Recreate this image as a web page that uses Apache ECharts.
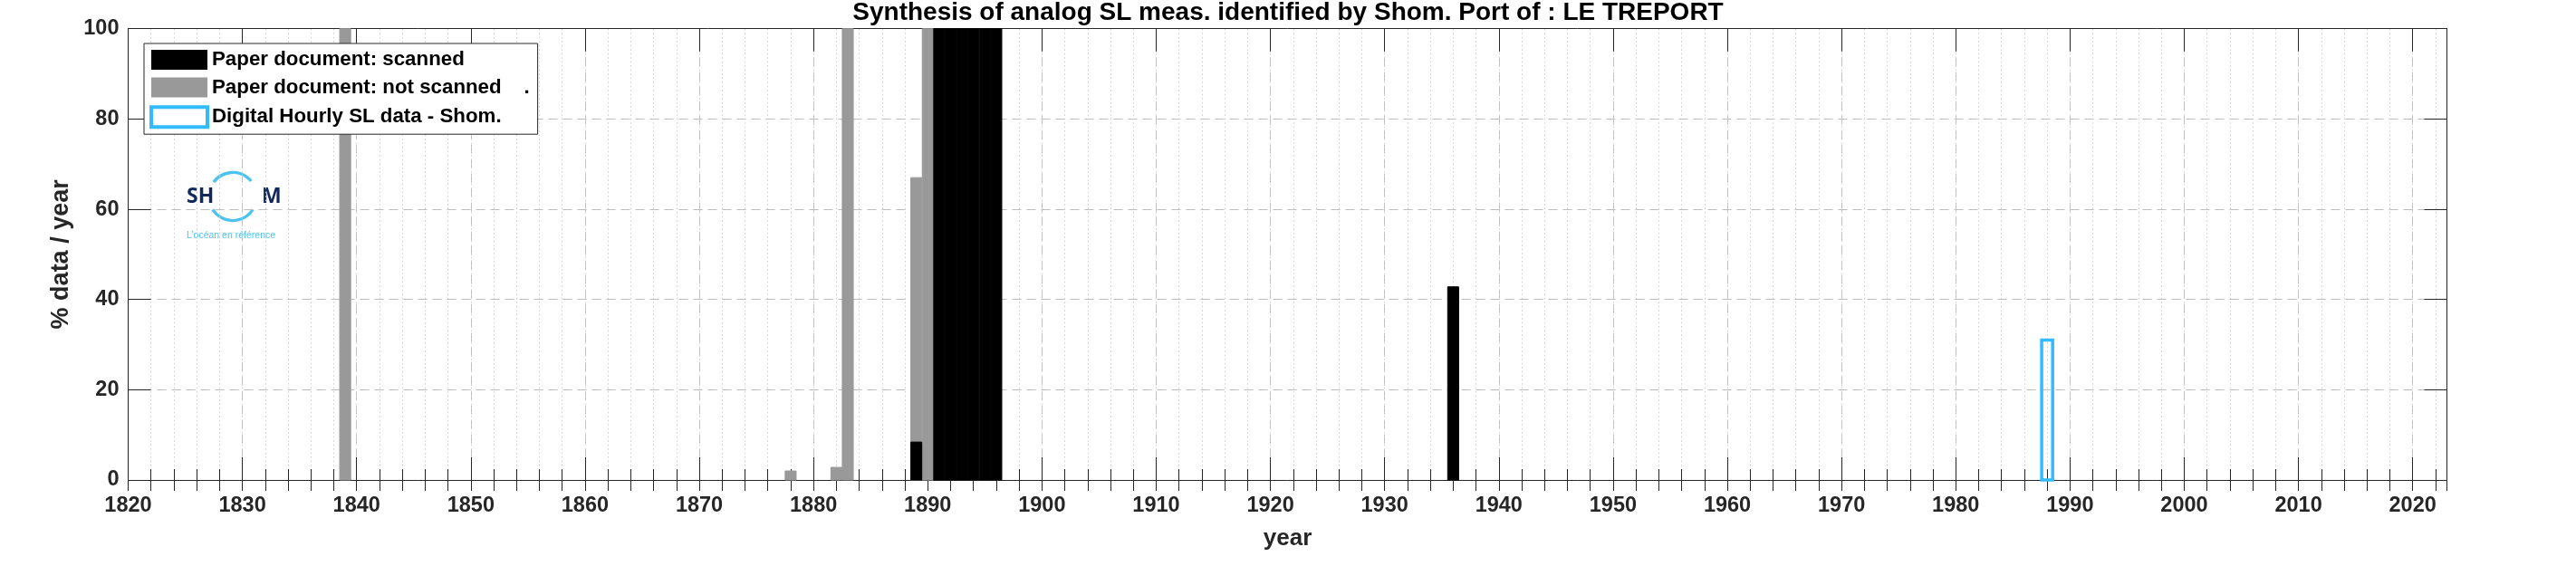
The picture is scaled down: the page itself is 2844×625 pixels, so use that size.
<!DOCTYPE html>
<html>
<head>
<meta charset="utf-8">
<script src="https://cdn.jsdelivr.net/npm/echarts@6/dist/echarts.min.js"></script>
<style>
html,body{margin:0;padding:0;background:#fff;}
#chart{width:2844px;height:625px;}
</style>
</head>
<body>
<div id="chart"></div>
<script>
// ---------------- data ----------------
const titleText = 'Synthesis of analog SL meas. identified by Shom. Port of : LE TREPORT';
const xAxisName = 'year';
const yAxisName = '% data / year';
const seriesNames = ['Paper document: scanned', 'Paper document: not scanned    .', 'Digital Hourly SL data - Shom.'];

const scannedYears = [1889, 1891, 1892, 1893, 1894, 1895, 1896, 1936];
const scannedPct   = [8.4, 100, 100, 100, 100, 100, 100, 42.8];

const notScannedYears = [1839, 1878, 1882, 1883, 1889, 1890];
const notScannedPct   = [100, 2, 2.8, 100, 67, 100];

const digitalYears = [1988];
const digitalPct   = [31];

const yearMin = 1820, yearMax = 2023, yearMajorStep = 10, yearMinorStep = 2;
const pctMin = 0, pctMax = 100, pctStep = 20;

// ---------------- styles ----------------
const FONT = '"Liberation Sans", Arial, Helvetica, sans-serif';
const AXIS_COLOR = '#262626';
const axisLine = {show: true, onZero: false, lineStyle: {color: AXIS_COLOR, width: 1}};
const majorGrid = {show: true, showMinLine: false, showMaxLine: false, lineStyle: {color: '#bcbcbc', type: [10, 6], width: 1}};
const minorGrid = {show: true, showMinLine: false, showMaxLine: false, lineStyle: {color: '#cdcdcd', type: [1.5, 3], width: 1}};
const HALF = 0.48;

const chart = echarts.init(document.getElementById('chart'), null, {renderer: 'canvas'});

function barSeries(name, years, vals, style, z) {
  return {
    type: 'custom',
    name: name,
    xAxisIndex: 0,
    yAxisIndex: 0,
    z: z,
    silent: true,
    itemStyle: {color: style.fill, borderColor: style.stroke, borderWidth: style.lineWidth},
    data: years.map((y, i) => [y, vals[i]]),
    renderItem: function (params, api) {
      const yr = api.value(0), v = api.value(1);
      const p0 = api.coord([yr - HALF, 0]);
      const p1 = api.coord([yr + HALF, v]);
      return {
        type: 'rect',
        shape: {x: p0[0], y: p1[1], width: p1[0] - p0[0], height: p0[1] - p1[1]},
        style: {fill: style.fill, stroke: style.stroke, lineWidth: style.lineWidth}
      };
    }
  };
}

const labelStyle = {fontSize: 23.5, fontWeight: 'bold', color: AXIS_COLOR, fontFamily: FONT};
const xNameStyle = {fontSize: 26, fontWeight: 'bold', color: AXIS_COLOR, fontFamily: FONT};
const yNameStyle = {fontSize: 27, fontWeight: 'bold', color: AXIS_COLOR, fontFamily: FONT};

const option = {
  animation: false,
  backgroundColor: '#fff',
  title: {
    text: titleText,
    left: 'center',
    top: 0,
    padding: 0,
    textStyle: {fontSize: 28, fontWeight: 'bold', color: '#000', fontFamily: FONT}
  },
  grid: {left: 141.5, right: 142.5, top: 31.7, bottom: 95, containLabel: false, outerBoundsMode: 'none'},
  legend: {
    orient: 'vertical',
    left: 159,
    top: 48,
    padding: [7, 9, 6, 6],
    itemWidth: 62,
    itemHeight: 22,
    itemGap: 8.6,
    backgroundColor: '#fff',
    borderColor: AXIS_COLOR,
    borderWidth: 1,
    borderRadius: 0,
    selectedMode: false,
    z: 10,
    textStyle: {fontSize: 22.3, lineHeight: 22, fontWeight: 'bold', color: '#000', fontFamily: FONT},
    data: [
      {name: seriesNames[0], icon: 'rect', itemStyle: {color: '#000', borderWidth: 0}},
      {name: seriesNames[1], icon: 'rect', itemStyle: {color: '#999999', borderWidth: 0}},
      {name: seriesNames[2], icon: 'rect', itemStyle: {color: '#fff', borderColor: '#33bbff', borderWidth: 4}}
    ]
  },
  xAxis: [
    {
      type: 'value', position: 'bottom', min: yearMin, max: yearMax, interval: yearMajorStep,
      axisLine: axisLine,
      axisTick: {show: true, inside: true, length: 25, lineStyle: {color: AXIS_COLOR, width: 1}},
      axisLabel: Object.assign({formatter: v => String(v), showMaxLabel: false, margin: 17}, labelStyle),
      splitLine: majorGrid,
      name: xAxisName, nameLocation: 'middle', nameGap: 52, nameTextStyle: xNameStyle
    },
    {
      type: 'value', position: 'bottom', min: yearMin, max: yearMax, interval: yearMinorStep,
      axisLine: {show: false},
      axisTick: {show: true, inside: true, length: 12, lineStyle: {color: AXIS_COLOR, width: 1}},
      axisLabel: {show: false},
      splitLine: minorGrid
    },
    {
      type: 'value', position: 'top', min: yearMin, max: yearMax, interval: yearMajorStep,
      axisLine: axisLine,
      axisTick: {show: true, inside: true, length: 25, lineStyle: {color: AXIS_COLOR, width: 1}},
      axisLabel: {show: false},
      splitLine: {show: false}
    },
    {
      type: 'value', position: 'top', min: yearMin, max: yearMax, interval: yearMinorStep,
      axisLine: {show: false},
      axisTick: {show: true, inside: true, length: 12, lineStyle: {color: AXIS_COLOR, width: 1}},
      axisLabel: {show: false},
      splitLine: {show: false}
    }
  ],
  yAxis: [
    {
      type: 'value', position: 'left', min: pctMin, max: pctMax, interval: pctStep,
      axisLine: axisLine,
      axisTick: {show: true, inside: true, length: 25, lineStyle: {color: AXIS_COLOR, width: 1}},
      axisLabel: Object.assign({margin: 10}, labelStyle),
      splitLine: majorGrid,
      name: yAxisName, nameLocation: 'middle', nameGap: 56, nameRotate: 90, nameTextStyle: yNameStyle
    },
    {
      type: 'value', position: 'right', min: pctMin, max: pctMax, interval: pctStep,
      axisLine: axisLine,
      axisTick: {show: true, inside: true, length: 25, lineStyle: {color: AXIS_COLOR, width: 1}},
      axisLabel: {show: false},
      splitLine: {show: false}
    }
  ],
  graphic: [
    {
      type: 'group', left: 200, top: 188, z: 5, silent: true,
      children: [
        {type: 'rect', shape: {x: 0, y: 0, width: 110, height: 78}, style: {fill: '#fff'}},
        {type: 'arc', shape: {cx: 57, cy: 28, r: 26.5, startAngle: -143 * Math.PI / 180, endAngle: -40 * Math.PI / 180}, style: {stroke: '#4cc3ef', lineWidth: 3.3, fill: 'none'}},
        {type: 'arc', shape: {cx: 57, cy: 28, r: 26.5, startAngle: 33 * Math.PI / 180, endAngle: 147 * Math.PI / 180}, style: {stroke: '#4cc3ef', lineWidth: 3.3, fill: 'none'}},
        {type: 'text', x: 6, y: 28, style: {text: 'SH', fill: '#13295b', font: 'bold 23px "Open Sans", "Liberation Sans", sans-serif', textVerticalAlign: 'middle'}},
        {type: 'text', x: 89, y: 28, style: {text: 'M', fill: '#13295b', font: 'bold 23px "Open Sans", "Liberation Sans", sans-serif', textVerticalAlign: 'middle'}},
        {type: 'text', x: 6, y: 71, style: {text: 'L\u2019océan en référence', fill: '#4cc3ef', font: '10.5px "Liberation Sans Narrow", "Liberation Sans", sans-serif', textVerticalAlign: 'middle'}}
      ]
    }
  ],
  series: [
    barSeries(seriesNames[1], notScannedYears, notScannedPct, {fill: '#999999', stroke: '#999999', lineWidth: 1}, 2),
    barSeries(seriesNames[0], scannedYears, scannedPct, {fill: '#000000', stroke: '#000000', lineWidth: 1}, 3),
    barSeries(seriesNames[2], digitalYears, digitalPct, {fill: 'rgba(0,0,0,0)', stroke: '#33bbff', lineWidth: 3.5}, 4)
  ]
};

chart.setOption(option);
</script>
</body>
</html>
